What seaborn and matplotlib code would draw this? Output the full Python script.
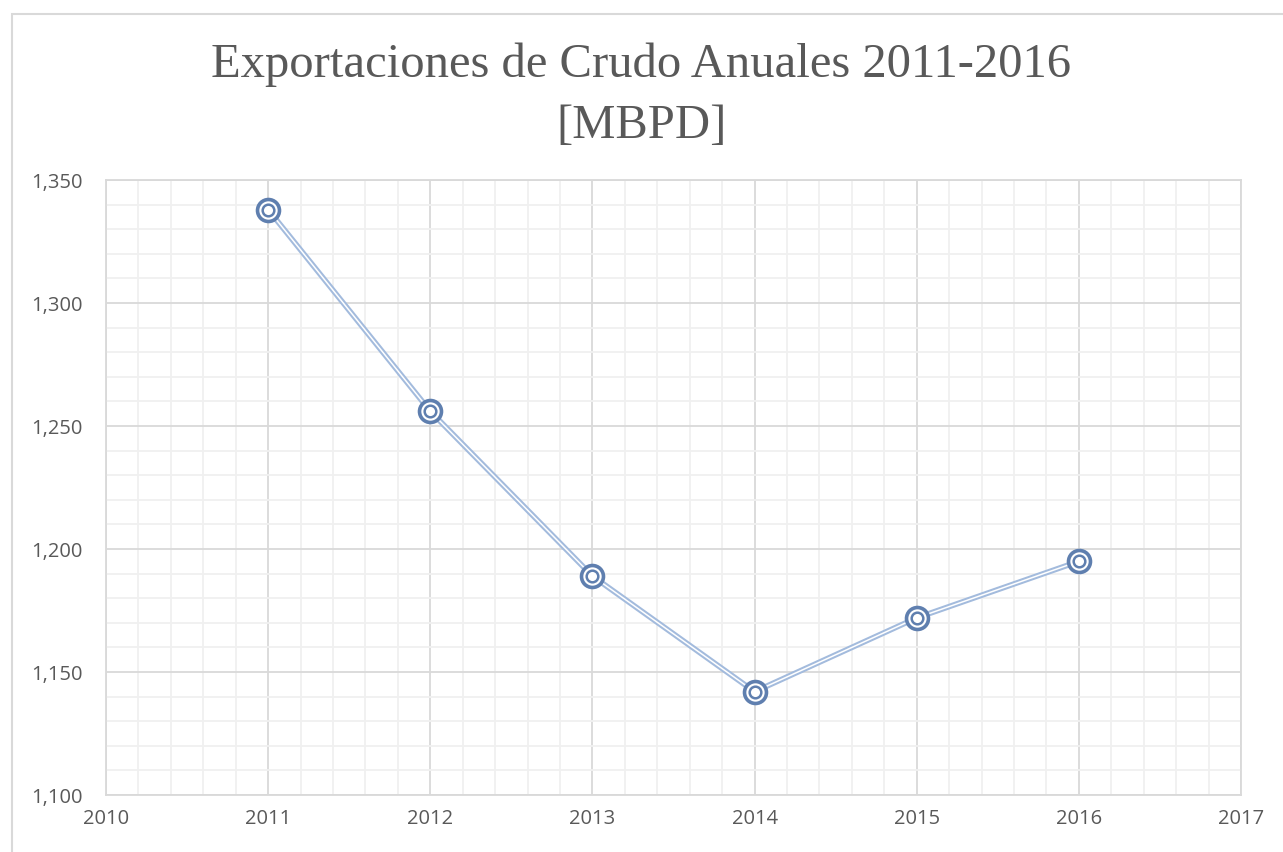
import matplotlib
matplotlib.use("Agg")
import matplotlib.pyplot as plt
from matplotlib.patches import Rectangle
from matplotlib.ticker import MultipleLocator, FuncFormatter
import seaborn as sns
import pandas as pd

# data
years = [2011, 2012, 2013, 2014, 2015, 2016]
exports = [1338, 1256, 1189, 1142, 1172, 1195]
title = "Exportaciones de Crudo Anuales 2011-2016\n[MBPD]"

df = pd.DataFrame({"year": years, "mbpd": exports})

sns.set_style("white")
plt.rcParams["font.family"] = ["Open Sans", "DejaVu Sans"]

fig = plt.figure(figsize=(12.83, 8.52), dpi=100)
ax = fig.add_axes([0.0826, 0.0669, 0.9673 - 0.0826, 0.7887 - 0.0669])

# chart border (light grey frame cut by the image edge)
fig.patches.append(Rectangle((12 / 1283, -0.2), 2.0, 0.2 + 1 - 14 / 852,
                             transform=fig.transFigure, fill=False,
                             edgecolor="#D9D9D9", linewidth=1.5))

# double line: light blue with a thin white core
sns.lineplot(data=df, x="year", y="mbpd", ax=ax, color="#A3BBDD",
             linewidth=4.0, zorder=3)
sns.lineplot(data=df, x="year", y="mbpd", ax=ax, color="white",
             linewidth=1.1, zorder=4)

# double-ring markers
sns.scatterplot(data=df, x="year", y="mbpd", ax=ax, s=250, facecolor="white",
                edgecolor="#5F7FAF", linewidth=2.6, zorder=5)
sns.scatterplot(data=df, x="year", y="mbpd", ax=ax, s=70, facecolor="white",
                edgecolor="#5F7FAF", linewidth=1.8, zorder=6)

ax.set_xlim(2010, 2017)
ax.set_ylim(1100, 1350)
ax.xaxis.set_major_locator(MultipleLocator(1))
ax.xaxis.set_minor_locator(MultipleLocator(0.2))
ax.yaxis.set_major_locator(MultipleLocator(50))
ax.yaxis.set_minor_locator(MultipleLocator(10))
ax.yaxis.set_major_formatter(FuncFormatter(lambda v, p: "{:,.0f}".format(v)))
ax.xaxis.set_major_formatter(FuncFormatter(lambda v, p: "{:.0f}".format(v)))

ax.grid(which="major", color="#D9D9D9", linewidth=1.3)
ax.grid(which="minor", color="#F0F0F0", linewidth=1.3)
ax.set_axisbelow(True)
for s in ax.spines.values():
    s.set_color("#D9D9D9")
    s.set_linewidth(1.3)

ax.tick_params(axis="both", which="both", length=0, labelsize=14.5,
               labelcolor="#595959")
ax.tick_params(axis="y", pad=17)
ax.tick_params(axis="x", pad=10)
ax.set_xlabel("")
ax.set_ylabel("")

fig.text(0.5, 0.888, title, ha="center", va="center", fontsize=35,
         color="#595959", family=["Liberation Serif", "DejaVu Serif"],
         linespacing=1.5)

fig.savefig("out.png", dpi=100)
